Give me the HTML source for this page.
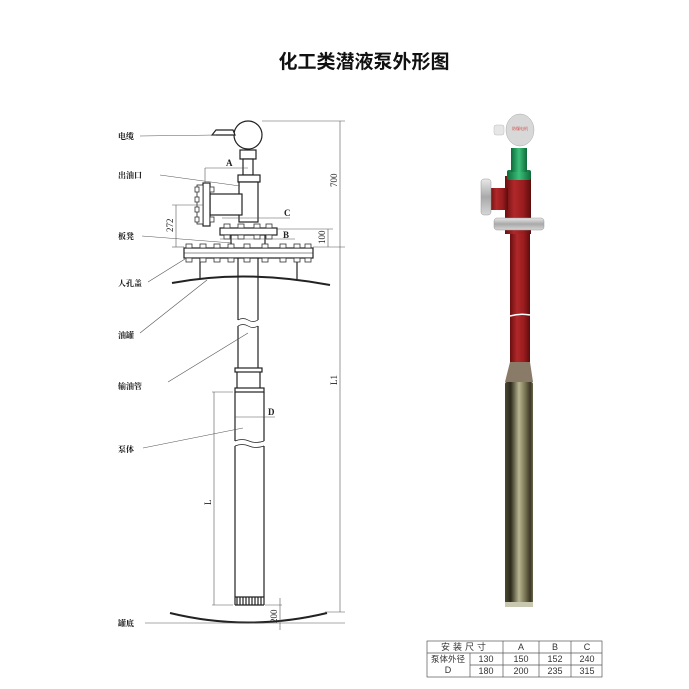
<!DOCTYPE html>
<html><head><meta charset="utf-8"><style>
html,body{margin:0;padding:0;background:#fff;}
svg{display:block;}
text{font-family:"Liberation Serif","Noto Serif CJK SC",serif;}
text.sans{font-family:"Liberation Sans","Noto Sans CJK SC",sans-serif;}
</style></head><body>
<svg width="689" height="689" viewBox="0 0 689 689" xmlns="http://www.w3.org/2000/svg">
<defs>
<linearGradient id="red" x1="0" x2="1"><stop offset="0" stop-color="#6a0f10"/><stop offset="0.35" stop-color="#b0282a"/><stop offset="0.7" stop-color="#9a1c1e"/><stop offset="1" stop-color="#5c0c0d"/></linearGradient>
<linearGradient id="steel" x1="0" x2="1"><stop offset="0" stop-color="#4a4a30"/><stop offset="0.2" stop-color="#2e2a1c"/><stop offset="0.5" stop-color="#b8b692"/><stop offset="0.7" stop-color="#7e7a58"/><stop offset="0.9" stop-color="#3c3826"/><stop offset="1" stop-color="#6a6648"/></linearGradient>
<linearGradient id="grn" x1="0" x2="1"><stop offset="0" stop-color="#0e6a3a"/><stop offset="0.5" stop-color="#3cc07a"/><stop offset="1" stop-color="#0e6a3a"/></linearGradient>
<linearGradient id="fl" x1="0" x2="0" y1="0" y2="1"><stop offset="0" stop-color="#e8e8e8"/><stop offset="0.5" stop-color="#a9a9a9"/><stop offset="1" stop-color="#d6d6d6"/></linearGradient>
</defs>
<text class="sans" x="364" y="68" font-size="19" text-anchor="middle" font-weight="bold" fill="#111">化工类潜液泵外形图</text>

<g stroke="#222" fill="none" stroke-width="1.2">
<circle cx="248" cy="135" r="14" fill="#fff"/>
<path d="M212 135 L235 135 L233 130 L216 130 Z" fill="#fff"/>
<rect x="240" y="150" width="16" height="9" fill="#fff"/>
<rect x="243" y="159" width="10" height="16" fill="#fff"/>
<rect x="238" y="175" width="22" height="7" fill="#fff"/>
<rect x="239" y="182" width="19" height="40" fill="#fff"/>
<rect x="210" y="194" width="32" height="21" fill="#fff"/>
<rect x="203" y="183" width="7" height="43" fill="#fff"/>
<rect x="197" y="185" width="6" height="39" fill="#fff" stroke-width="0.8"/>
<rect x="220" y="228" width="57" height="7" fill="#fff"/>
<rect x="184" y="248" width="129" height="10" fill="#fff"/>
<line x1="184" y1="253" x2="313" y2="253" stroke-width="0.6"/>
<line x1="231" y1="235" x2="231" y2="246"/><line x1="265" y1="235" x2="265" y2="246"/>
<line x1="200" y1="258" x2="200" y2="279"/><line x1="297" y1="258" x2="297" y2="279"/>
<path d="M238 258 V320 M258 258 V320 M238 326 V368 M258 326 V368"/>
<path d="M238 320 q5 -3 10 0 t10 0 M238 326 q5 -3 10 0 t10 0" stroke-width="0.7"/>
<rect x="235" y="368" width="27" height="4" fill="#fff"/>
<path d="M237 372 V388 M260 372 V388"/>
<rect x="235" y="388" width="29" height="4" fill="#fff"/>
<path d="M235 392 V441 M264 392 V441 M235 446 V605 M264 446 V605 M235 605 H264"/>
<path d="M235 441 q7 -3 14 0 t15 0 M235 446 q7 -3 14 0 t15 0" stroke-width="0.7"/>
<path d="M237 597 V605 M240 597 V605 M243 597 V605 M246 597 V605 M249 597 V605 M252 597 V605 M255 597 V605 M258 597 V605 M261 597 V605 M235 597 H264"/>
<path d="M172 283 Q245 269 330 285" stroke-width="2"/>
<path d="M170 613 Q248 632 327 613" stroke-width="2"/>
</g>
<g fill="#fff" stroke="#333" stroke-width="0.8">
<rect x="186" y="244" width="6" height="4"/><rect x="200" y="244" width="6" height="4"/><rect x="214" y="244" width="6" height="4"/><rect x="228" y="244" width="6" height="4"/><rect x="244" y="244" width="6" height="4"/><rect x="262" y="244" width="6" height="4"/><rect x="280" y="244" width="6" height="4"/><rect x="294" y="244" width="6" height="4"/><rect x="305" y="244" width="6" height="4"/>
<rect x="186" y="258" width="6" height="4"/><rect x="200" y="258" width="6" height="4"/><rect x="214" y="258" width="6" height="4"/><rect x="228" y="258" width="6" height="4"/><rect x="244" y="258" width="6" height="4"/><rect x="262" y="258" width="6" height="4"/><rect x="280" y="258" width="6" height="4"/><rect x="294" y="258" width="6" height="4"/><rect x="305" y="258" width="6" height="4"/>
<rect x="224" y="224" width="6" height="4"/><rect x="238" y="224" width="6" height="4"/><rect x="254" y="224" width="6" height="4"/><rect x="266" y="224" width="6" height="4"/>
<rect x="224" y="235" width="6" height="4"/><rect x="238" y="235" width="6" height="4"/><rect x="254" y="235" width="6" height="4"/><rect x="266" y="235" width="6" height="4"/>
<rect x="195" y="187" width="4" height="5"/><rect x="195" y="197" width="4" height="5"/><rect x="195" y="207" width="4" height="5"/><rect x="195" y="217" width="4" height="5"/>
<rect x="210" y="187" width="4" height="5"/><rect x="210" y="217" width="4" height="5"/>
</g>
<g stroke="#555" stroke-width="0.6" fill="none">
<line x1="262" y1="121" x2="345" y2="121"/><line x1="340" y1="121" x2="340" y2="612"/>
<line x1="313" y1="247" x2="345" y2="247"/><line x1="325" y1="612" x2="345" y2="612"/>
<line x1="277" y1="229" x2="333" y2="229"/><line x1="328" y1="229" x2="328" y2="247"/>
<line x1="172" y1="247" x2="184" y2="247"/><line x1="172" y1="205" x2="203" y2="205"/><line x1="176" y1="205" x2="176" y2="247"/>
<line x1="205" y1="168" x2="248" y2="168"/><line x1="205" y1="168" x2="205" y2="183"/>
<line x1="222" y1="218" x2="290" y2="218"/><line x1="220" y1="239" x2="295" y2="239"/>
<line x1="212" y1="392" x2="233" y2="392"/><line x1="212" y1="605" x2="233" y2="605"/><line x1="214" y1="392" x2="214" y2="605"/>
<line x1="235" y1="417" x2="275" y2="417"/>
<line x1="265" y1="605" x2="282" y2="605"/><line x1="280" y1="598" x2="280" y2="630"/>
<line x1="145" y1="623" x2="345" y2="623"/>
<line x1="140" y1="136" x2="216" y2="135"/>
<line x1="160" y1="175" x2="240" y2="186"/>
<line x1="142" y1="236" x2="232" y2="243"/>
<line x1="148" y1="282" x2="185" y2="259"/>
<line x1="140" y1="333" x2="207" y2="280"/>
<line x1="168" y1="382" x2="248" y2="333"/>
<line x1="143" y1="448" x2="243" y2="428"/>
</g>
<g font-size="9" fill="#222" font-weight="bold">
<text x="226" y="166">A</text><text x="284" y="216">C</text><text x="283" y="238">B</text>
<text x="268" y="415">D</text>
<text transform="translate(337,187) rotate(-90)" font-weight="normal">700</text>
<text transform="translate(325,244) rotate(-90)" font-weight="normal">100</text>
<text transform="translate(173,232) rotate(-90)" font-weight="normal">272</text>
<text transform="translate(337,385) rotate(-90)" font-weight="normal">L1</text>
<text transform="translate(211,505) rotate(-90)" font-weight="normal">L</text>
<text transform="translate(277,623) rotate(-90)" font-weight="normal">200</text>
</g>
<g font-size="8" fill="#111" font-weight="bold">
<text x="118" y="139">电缆</text><text x="118" y="178">出油口</text><text x="118" y="239">板凳</text>
<text x="118" y="286">人孔盖</text><text x="118" y="338">油罐</text><text x="118" y="389">输油管</text>
<text x="118" y="452">泵体</text><text x="118" y="626">罐底</text>
</g>

<g>
<rect x="510" y="230" width="20" height="135" fill="url(#red)"/>
<path d="M510 316 q10 -3 20 -1" stroke="#fff" stroke-width="1.5" fill="none"/>
<path d="M510 362 L530 362 L533 382 L505 382 Z" fill="#8a7a68"/>
<rect x="505" y="382" width="28" height="224" fill="url(#steel)" rx="2"/>
<rect x="505" y="602" width="28" height="5" fill="#c8c8b0"/>
<rect x="505" y="176" width="26" height="58" fill="url(#red)"/>
<rect x="490" y="188" width="18" height="22" fill="url(#red)"/>
<rect x="481" y="179" width="10" height="36" rx="3" fill="url(#fl)" stroke="#999" stroke-width="0.5"/>
<rect x="494" y="218" width="50" height="12" rx="3" fill="url(#fl)" stroke="#999" stroke-width="0.5"/>
<rect x="507" y="170" width="24" height="10" rx="2" fill="url(#grn)"/>
<rect x="511" y="148" width="16" height="24" fill="url(#grn)"/>
<ellipse cx="520" cy="130" rx="14" ry="16" fill="#d8d8d8" stroke="#aaa" stroke-width="0.5"/>
<rect x="494" y="125" width="10" height="10" rx="2" fill="#e6e6e6" stroke="#bbb" stroke-width="0.5"/>
<text x="520" y="130" font-size="4" fill="#c33" text-anchor="middle">防爆电机</text>
</g>

<g stroke="#555" stroke-width="0.7" fill="none">
<rect x="427" y="641" width="175" height="36"/>
<line x1="427" y1="653" x2="602" y2="653"/><line x1="470" y1="665" x2="602" y2="665"/>
<line x1="470" y1="653" x2="470" y2="677"/><line x1="503" y1="641" x2="503" y2="677"/>
<line x1="539" y1="641" x2="539" y2="677"/><line x1="571" y1="641" x2="571" y2="677"/>
</g>
<g font-size="9" fill="#333" text-anchor="middle">
<text class="sans" x="465" y="650" letter-spacing="3">安装尺寸</text>
<text class="sans" x="521" y="650">A</text><text class="sans" x="555" y="650">B</text><text class="sans" x="587" y="650">C</text>
<text class="sans" x="448" y="662" font-size="8.5">泵体外径</text><text class="sans" x="448" y="673">D</text>
<text class="sans" x="486" y="662">130</text><text class="sans" x="521" y="662">150</text><text class="sans" x="555" y="662">152</text><text class="sans" x="587" y="662">240</text>
<text class="sans" x="486" y="674">180</text><text class="sans" x="521" y="674">200</text><text class="sans" x="555" y="674">235</text><text class="sans" x="587" y="674">315</text>
</g>
</svg>
</body></html>
